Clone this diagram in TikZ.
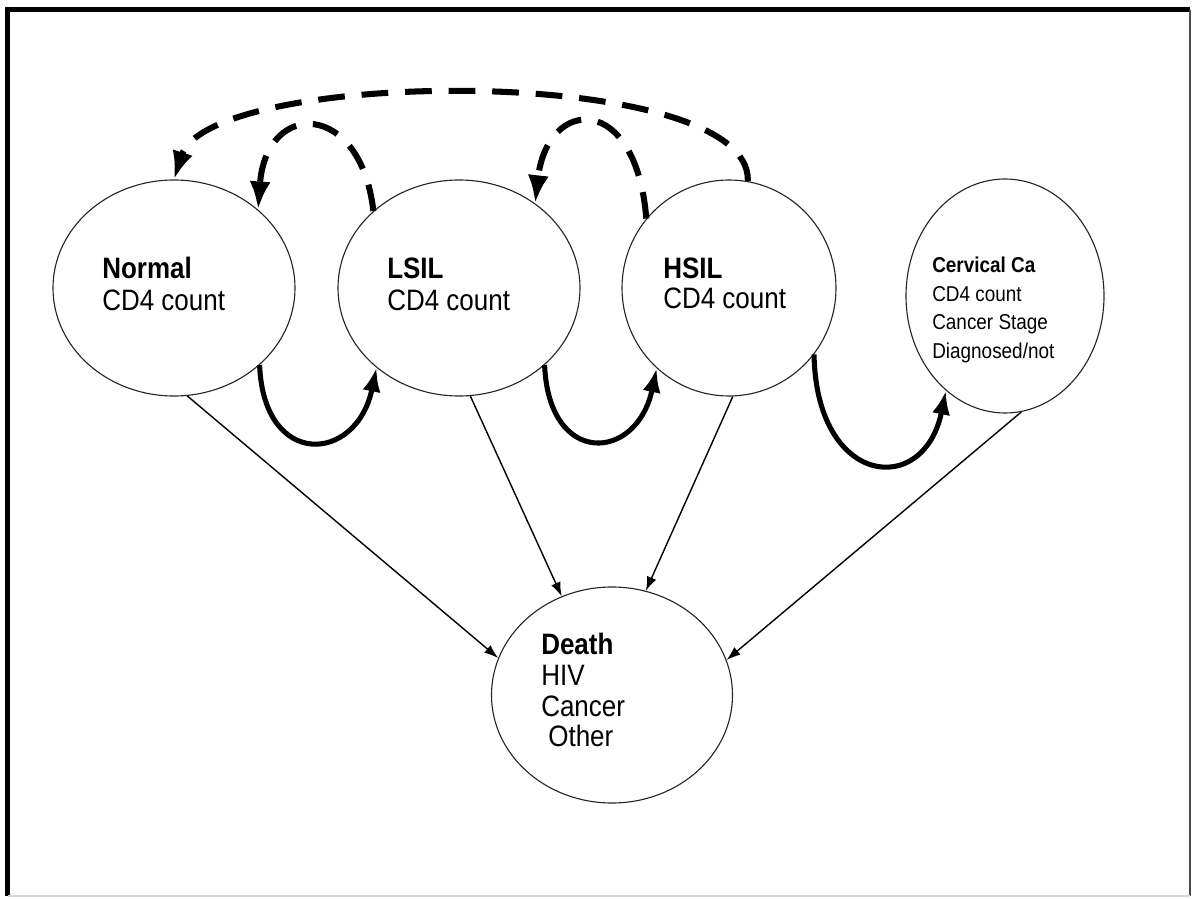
\documentclass[tikz,border=0pt]{standalone}
\usepackage{fontspec}
\setmainfont{Liberation Sans}[FakeStretch=0.88]
\usetikzlibrary{calc,shapes,arrows,arrows.meta}

\tikzset{
  state/.style={draw=black!85, ellipse, line width=0.8pt, inner sep=0pt,
    minimum width=6.05cm, minimum height=5.4cm},
  txt/.style={anchor=west, align=left, inner sep=0pt,
    font=\fontsize{21}{22.8}\selectfont},
  back/.style={-{Latex[length=20pt,width=15pt]}, line width=4.3pt, dash pattern=on 19pt off 12pt},
  fwd/.style={-{Latex[length=17pt,width=13pt]}, line width=3.6pt},
  die/.style={-{Latex[length=10pt,width=7pt]}, line width=1pt}
}

\begin{document}
\begin{tikzpicture}
        \useasboundingbox (0,0) rectangle (29.825,22.45);
        % frame
        \draw[line width=3pt] (0.1875,0.05) -- (0.1875,22.21) -- (29.76,22.21);
        \draw[line width=1.5pt, black!70] (29.76,22.21) -- (29.76,0.05);
        \draw[line width=0.8pt, black!15] (0.1875,0.05) -- (29.76,0.05);
        % states
        \node[state] (normal) at (4.35,15.25) {};
        \node[state] (lsil) at (11.475,15.25) {};
        \node[state, minimum width=5.35cm] (hsil) at (18.225,15.25) {};
        \node[state, minimum width=4.95cm, minimum height=5.85cm] (cervical) at (25.125,15.05) {};
        \node[state, minimum width=6.025cm] (death) at (15.3,5.075) {};
        % texts
        \node[txt] (normaltxt) at ($(normal)+(-1.8,0.1)$) {\textbf{Normal}\\CD4 count};
        \node[txt] (lsiltxt) at ($(lsil)+(-1.8,0.1)$) {\textbf{LSIL}\\CD4 count};
        \node[txt, font=\fontsize{21}{21.3}\selectfont] (hsiltxt) at ($(hsil)+(-1.65,0.125)$)
            {\textbf{HSIL}\\CD4 count};
        \node[txt, font=\fontsize{15.3}{20.3}\selectfont] (cervicaltxt) at ($(cervical)+(-1.825,-0.35)$)
            {\textbf{Cervical Ca}\\CD4 count\\Cancer Stage\\Diagnosed/not};
        \node[txt, font=\fontsize{21}{22}\selectfont] (deathtxt) at ($(death)+(-1.775,0.125)$)
            {\textbf{Death}\\HIV\\Cancer\\\hspace*{5pt}Other};
        % regression
        \draw[back] (hsil.80) .. controls +(0.1,2.95) and +(0.9,2.8) .. (normal.north);
        \draw[back] (lsil.138) .. controls +(-0.325,2.775) and +(0.2,2.75) .. (normal.43);
        \draw[back] (hsil.140) .. controls +(-0.25,3.175) and +(0.3,2.675) .. (lsil.48);
        % progression
        \draw[fwd] (normal.-42) .. controls +(0.1,-2.6) and +(-0.5,-2.4) .. (lsil.-136);
        \draw[fwd] (lsil.-42) .. controls +(0.1,-2.55) and +(-0.5,-2.35) .. (hsil.-132);
        \draw[fwd] (hsil.-38) .. controls +(0.05,-3.3) and +(-0.55,-2.7) .. (cervical.-122);
        % death
        \draw[die] (normal.-83) -- (death.162);
        \draw[die] (lsil.-84) -- (death.117);
        \draw[die] (hsil.-88) -- (death.72);
        \draw[die] (cervical.-82) -- (death.17);
    \end{tikzpicture}
\end{document}
